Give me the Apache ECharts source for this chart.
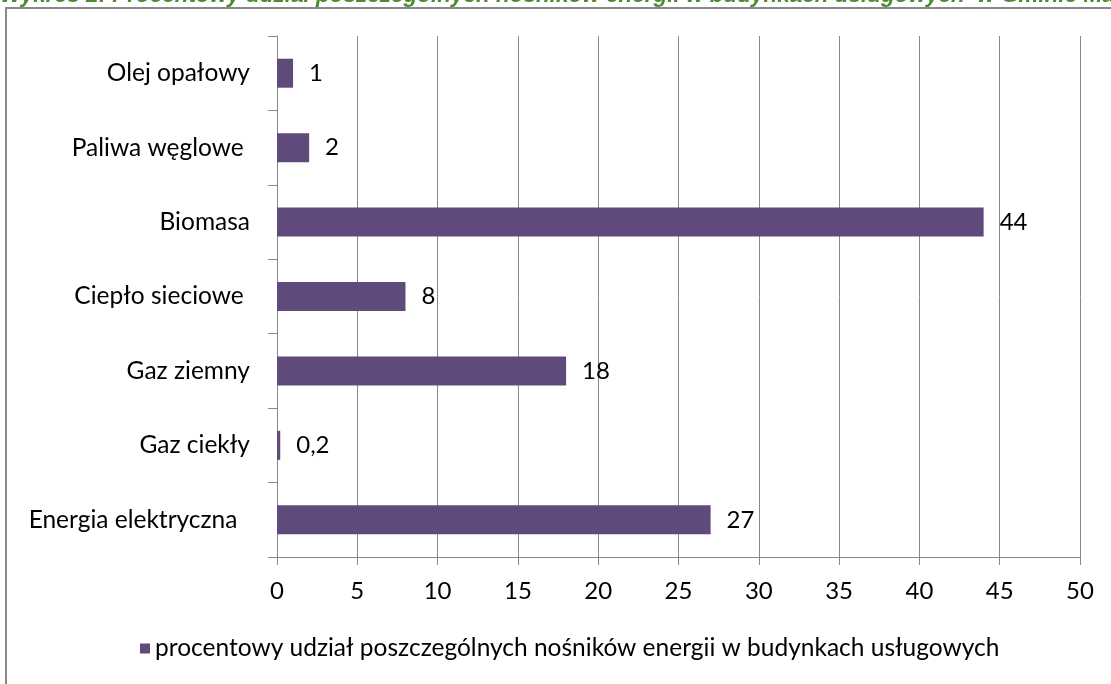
<!DOCTYPE html>
<html><head><meta charset="utf-8">
<script src="https://cdn.jsdelivr.net/npm/echarts@6/dist/echarts.min.js"></script>
<style>html,body{margin:0;padding:0;background:#fff}#c{width:1111px;height:684px}</style>
</head><body><div id="c"></div>
<script>
var categories = ["Energia elektryczna  ", "Gaz ciekły", "Gaz ziemny", "Ciepło sieciowe ", "Biomasa", "Paliwa węglowe ", "Olej opałowy"];
var values = [27, 0.2, 18, 8, 44, 2, 1];
var valueLabels = ["27", "0,2", "18", "8", "44", "2", "1"];
var seriesName = "procentowy udział poszczególnych nośników energii w budynkach usługowych";
var titleText = "Wykres 2: Procentowy udział poszczególnych nośników energii w budynkach usługowych  w Gminie Mar";

var chart = echarts.init(document.getElementById('c'), null, {renderer: 'canvas'});
var font = 'Lato';
chart.setOption({
  animation: false,
  textStyle: {fontFamily: font},
  graphic: [
    {type: 'rect', shape: {x: 6, y: 8, width: 1200, height: 800}, style: {fill: 'none', stroke: '#888888', lineWidth: 2}, z: 100},
    {type: 'text', x: 0, y: -15.5, style: {text: titleText, fill: '#4E8A2E', font: 'italic bold 22.5px "Liberation Sans"'}, z: 100}
  ],
  legend: {
    bottom: 18, left: 135,
    icon: 'rect', itemWidth: 10, itemHeight: 10, itemGap: 5,
    textStyle: {fontFamily: font, fontSize: 24.5, color: '#000'},
    data: [seriesName]
  },
  grid: {left: 277, right: 31, top: 36, bottom: 127},
  xAxis: {
    type: 'value', min: 0, max: 50, interval: 5,
    axisLine: {show: true, lineStyle: {color: '#888888', width: 1}},
    axisTick: {show: true, length: 8, lineStyle: {color: '#888888'}},
    axisLabel: {fontFamily: font, fontSize: 24, color: '#000', margin: 22},
    splitLine: {show: true, lineStyle: {color: '#888888', width: 1}}
  },
  yAxis: {
    type: 'category', data: categories,
    axisLine: {show: true, lineStyle: {color: '#888888', width: 1}},
    axisTick: {show: true, length: 9, lineStyle: {color: '#888888'}},
    axisLabel: {fontFamily: font, fontSize: 24.5, color: '#000', margin: 27}
  },
  series: [{
    name: seriesName, type: 'bar', data: values, barWidth: 29,
    itemStyle: {color: '#604A7B'},
    label: {show: true, position: 'right', distance: 16, fontFamily: font, fontSize: 24, color: '#000',
      formatter: function (p) { return valueLabels[p.dataIndex]; }}
  }]
});
</script></body></html>
